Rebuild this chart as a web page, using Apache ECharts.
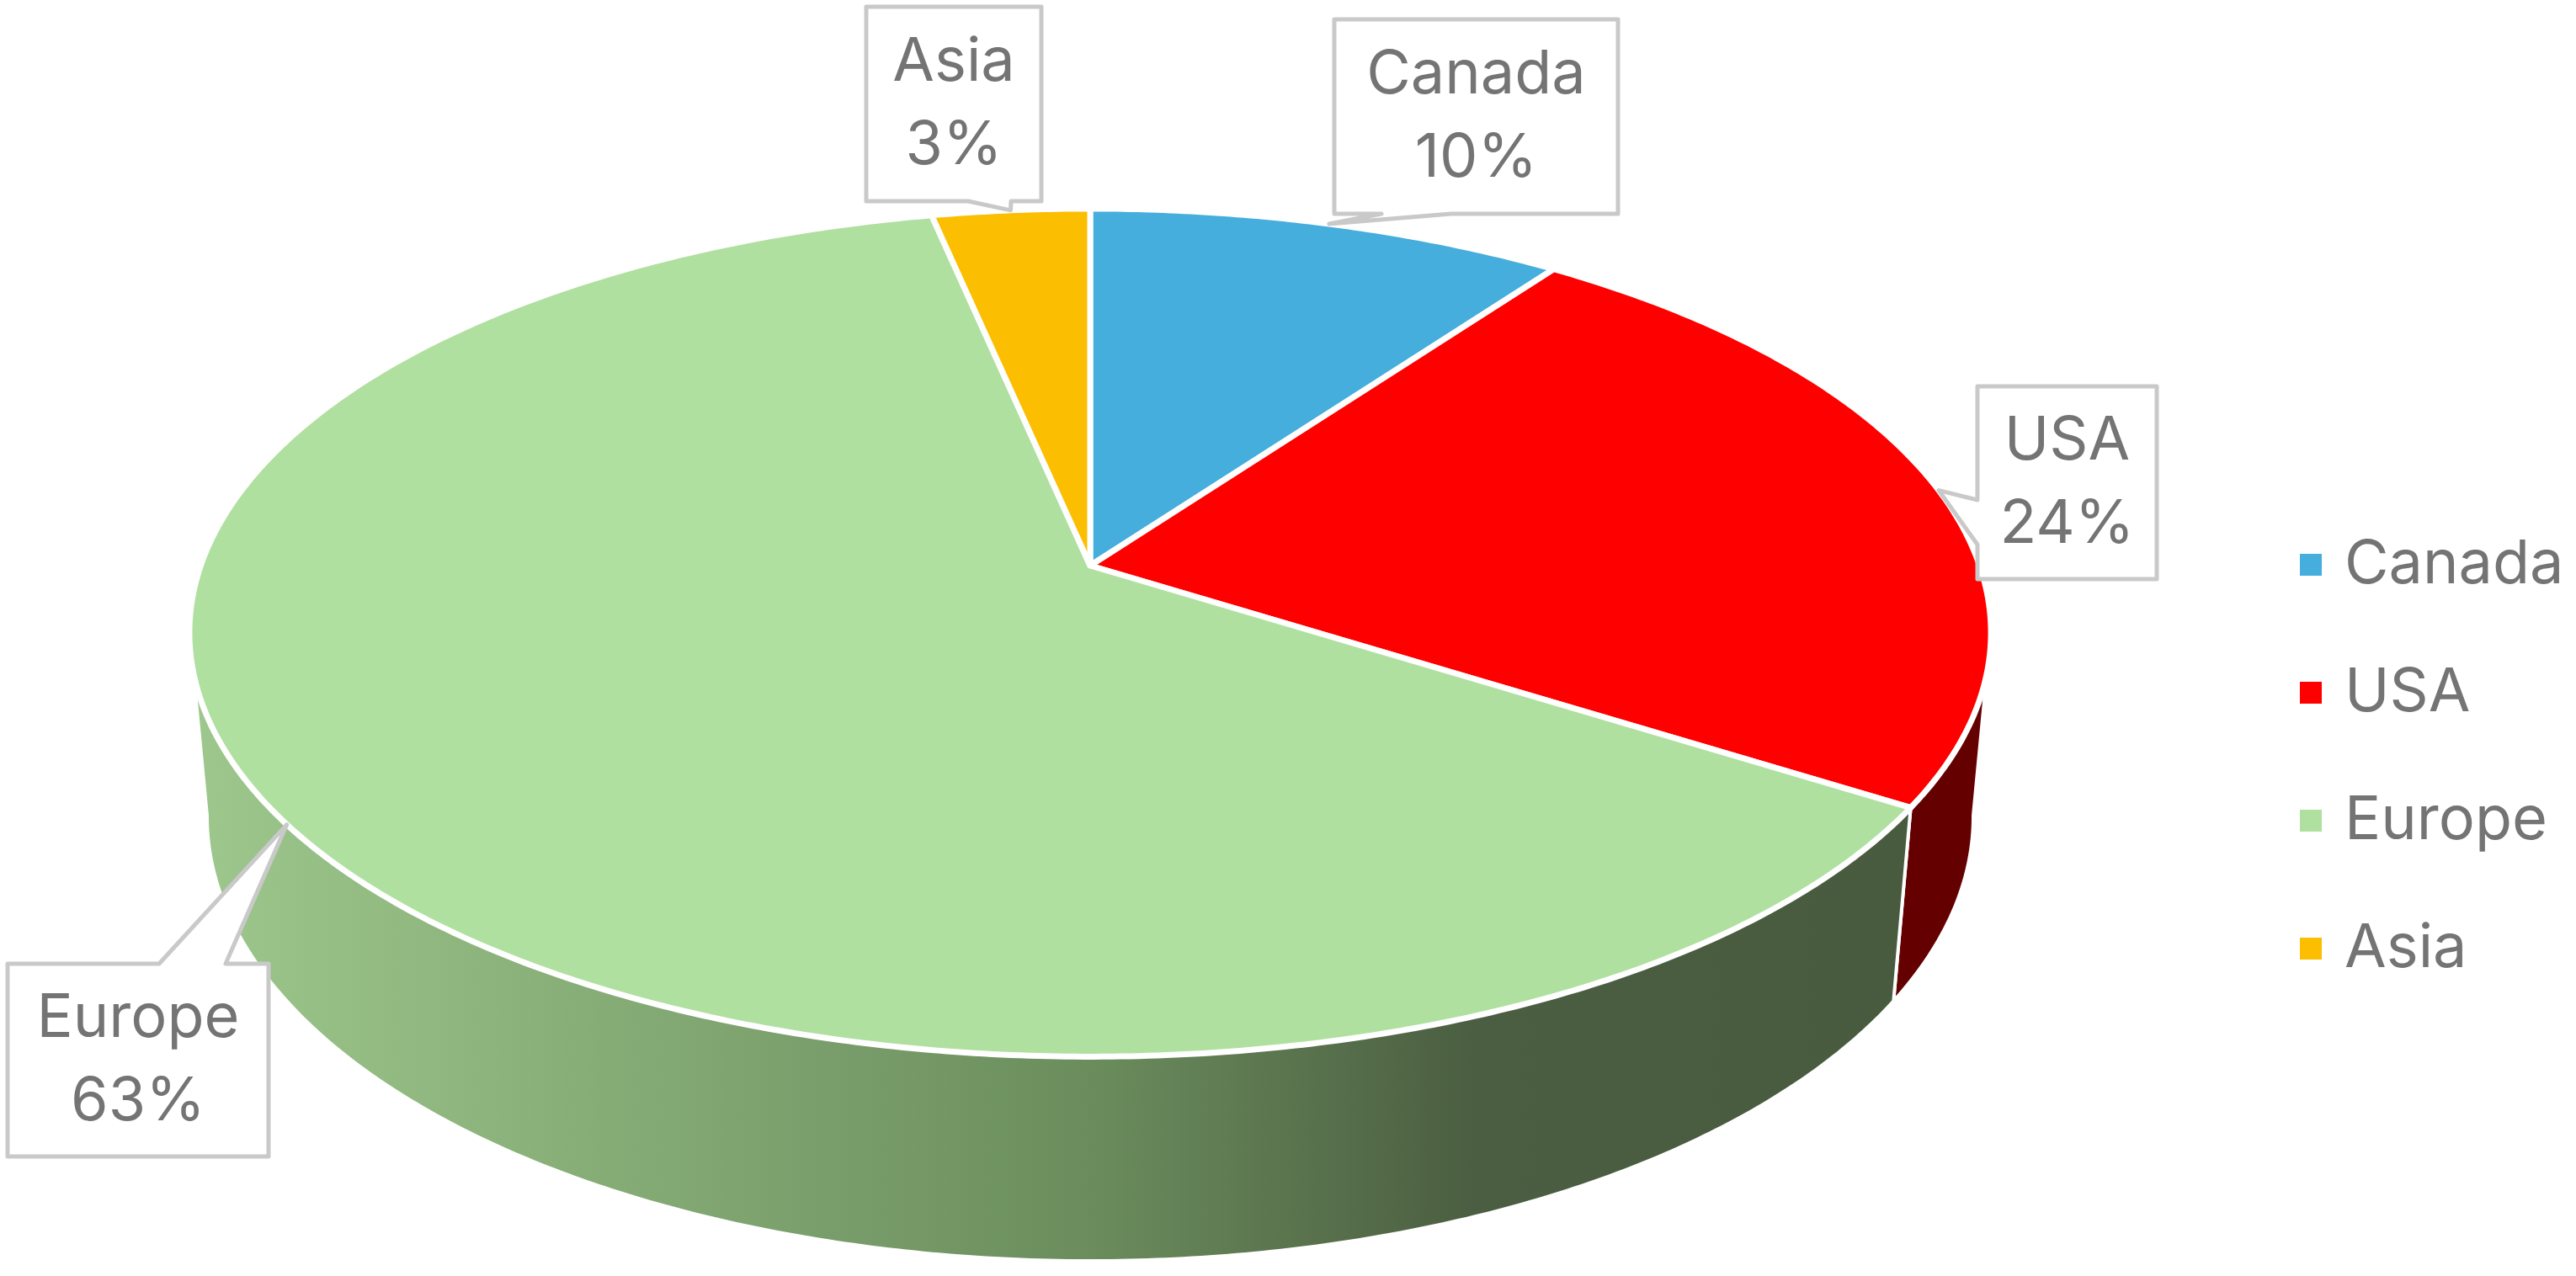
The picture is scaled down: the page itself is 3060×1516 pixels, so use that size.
<!DOCTYPE html>
<html>
<head>
<meta charset="utf-8">
<script src="https://cdn.jsdelivr.net/npm/echarts@6/dist/echarts.min.js"></script>
<style>
	html, body { margin: 0; padding: 0; background: #fff; }
	#pie3d { width: 3060px; height: 1516px; }
</style>
</head>
<body>
<div id="pie3d"></div>
<script>
// ---- data ----
var regions = ['Canada', 'USA', 'Europe', 'Asia'];
var shares = [10, 24, 62.7, 3.3];

// ---- styles ----
var topColors = ['#45aedc', '#ff0000', '#b0e0a0', '#fbbe00'];
var sideColors = ['#22576e', '#650000', null, '#7d5f00'];
var textGray = '#747474';
var fontName = 'Inter';

// perspective of the tilted disc (Excel-like 3D pie)
var view = { cx: 1295, cy: 672, f: 5917, dist: 5.6, tilt: 27.7, depth: 0.2357 };

// callout boxes, placed by hand like the original
var callouts = [
	{ x: 1585, y: 23, w: 337, h: 231, side: 'bottom', base: [1641, 1724] },
	{ x: 2349, y: 459, w: 213, h: 229, side: 'left', base: [594, 647] },
	{ x: 9, y: 1145, w: 310, h: 229, side: 'top', base: [189, 268] },
	{ x: 1029, y: 8, w: 208, h: 231, side: 'bottom', base: [1150, 1201] }
];

// slice angles (degrees, clockwise from 12 o'clock)
var total = shares.reduce(function (a, b) { return a + b; }, 0);
var angles = [];
var acc = 0;
shares.forEach(function (v) {
	var a1 = acc / total * 360;
	acc += v;
	angles.push([a1, acc / total * 360]);
});

function project(theta, r, w) {
	var t = theta * Math.PI / 180, a = view.tilt * Math.PI / 180;
	var u = r * Math.sin(t), v = r * Math.cos(t);
	var s = v * Math.sin(a) + w * Math.cos(a);
	var d = view.dist + v * Math.cos(a) - w * Math.sin(a);
	return [view.cx + view.f * u / d, view.cy - view.f * s / d];
}

function rim(a1, a2, w) {
	var pts = [];
	var n = Math.max(2, Math.ceil(Math.abs(a2 - a1) / 0.5));
	for (var k = 0; k <= n; k++) {
		pts.push(project(a1 + (a2 - a1) * k / n, 1, w));
	}
	return pts;
}

// visible front of the side wall (between the two silhouette points)
var sil = (function () {
	var minX = Infinity, maxX = -Infinity, aL = 0, aR = 0;
	for (var t = 0; t < 360; t += 0.1) {
		var p = project(t, 1, 0);
		if (p[0] > maxX) { maxX = p[0]; aR = t; }
		if (p[0] < minX) { minX = p[0]; aL = t; }
	}
	return [aR - 0.3, aL + 0.3];
})();

var euroSide = new echarts.graphic.LinearGradient(230, 0, 2270, 0, [
	{ offset: 0, color: '#9dc78c' },
	{ offset: 0.52, color: '#6b8d5d' },
	{ offset: 0.745, color: '#4b5e41' },
	{ offset: 1, color: '#485b3f' }
], true);

function renderWall(params) {
	var i = params.dataIndex;
	var b1 = Math.max(angles[i][0], sil[0]);
	var b2 = Math.min(angles[i][1], sil[1]);
	if (b1 >= b2) return;
	var pts = rim(b1, b2, 0).concat(rim(b2, b1, -view.depth));
	return {
		type: 'polygon',
		shape: { points: pts },
		style: { fill: sideColors[i] || euroSide, stroke: '#fff', lineWidth: 4, lineJoin: 'round' }
	};
}

function makeTop(i) {
	return function () {
		var pts = [project(0, 0, 0)].concat(rim(angles[i][0], angles[i][1], 0));
		return {
			type: 'polygon',
			shape: { points: pts },
			style: { fill: topColors[i], stroke: '#fff', lineWidth: 7, lineJoin: 'round' }
		};
	};
}

function renderCallout(params) {
	var i = params.dataIndex;
	var b = callouts[i];
	var mid = (angles[i][0] + angles[i][1]) / 2;
	var tip = project(mid, 1, 0);
	var L = b.x, R = b.x + b.w, T = b.y, B = b.y + b.h;
	var pts;
	if (b.side === 'bottom') {
		pts = [[L, T], [R, T], [R, B], [b.base[1], B], tip, [b.base[0], B], [L, B]];
	} else if (b.side === 'top') {
		pts = [[L, T], [b.base[0], T], tip, [b.base[1], T], [R, T], [R, B], [L, B]];
	} else {
		pts = [[L, T], [R, T], [R, B], [L, B], [L, b.base[1]], tip, [L, b.base[0]]];
	}
	var pct = Math.round(shares[i] / total * 100) + '%';
	return {
		type: 'group',
		children: [
			{
				type: 'polygon',
				shape: { points: pts },
				style: { fill: '#fff', stroke: '#c9c9c9', lineWidth: 5, lineJoin: 'round' }
			},
			{
				type: 'text',
				x: (L + R) / 2,
				y: (T + B) / 2,
				style: {
					text: regions[i] + '\n' + pct,
					fill: textGray,
					fontSize: 72,
					fontFamily: fontName,
					lineHeight: 99,
					align: 'center',
					verticalAlign: 'middle'
				}
			}
		]
	};
}

var myChart = echarts.init(document.getElementById('pie3d'));

var series = [{
	type: 'custom',
	name: 'sides',
	coordinateSystem: 'none',
	silent: true,
	z: 1,
	data: shares,
	renderItem: renderWall
}];
regions.forEach(function (name, i) {
	series.push({
		type: 'custom',
		name: name,
		coordinateSystem: 'none',
		silent: true,
		z: 2,
		itemStyle: { color: topColors[i] },
		data: [shares[i]],
		renderItem: makeTop(i)
	});
});
series.push({
	type: 'custom',
	name: 'labels',
	coordinateSystem: 'none',
	silent: true,
	z: 3,
	data: shares,
	renderItem: renderCallout
});

myChart.setOption({
	animation: false,
	backgroundColor: '#fff',
	legend: {
		data: regions,
		orient: 'vertical',
		left: 2727,
		top: 626,
		icon: 'rect',
		itemWidth: 26,
		itemHeight: 26,
		itemGap: 72,
		selectedMode: false,
		textStyle: {
			fontSize: 72,
			fontFamily: fontName,
			color: textGray,
			lineHeight: 80,
			padding: [0, 0, 0, 22]
		}
	},
	series: series
});
</script>
</body>
</html>
